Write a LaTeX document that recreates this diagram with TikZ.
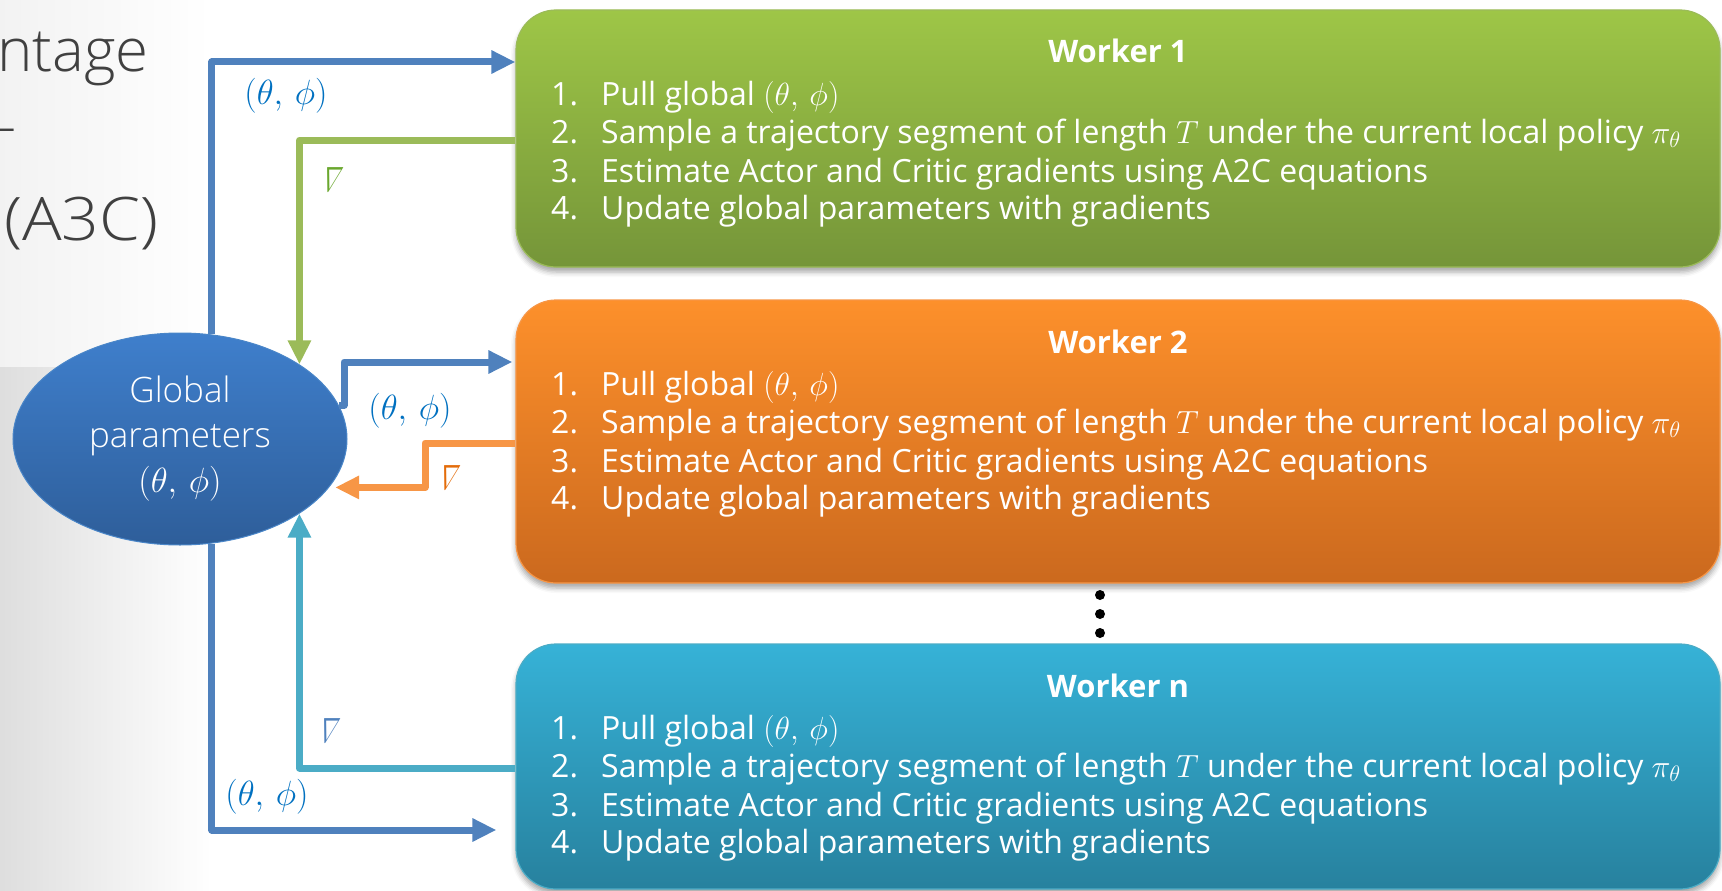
\documentclass[tikz,border=0pt]{standalone}
\usepackage{fix-cm}
\usepackage{fontspec}
\setmainfont{Open Sans}
\newfontfamily\lightfont{Open Sans Light}
\usetikzlibrary{arrows.meta,shapes.geometric,shadows.blur}

\definecolor{linkBlue}{HTML}{4F81BD}
\definecolor{linkGreen}{HTML}{9BBB59}
\definecolor{linkOrange}{HTML}{F79646}
\definecolor{linkCyan}{HTML}{4BACC6}
\definecolor{labBlue}{HTML}{0070C0}
\definecolor{gradGreen}{HTML}{6AA72E}
\definecolor{gradOrange}{HTML}{E36C0A}
\definecolor{gradBlue}{HTML}{4F81BD}
\definecolor{titleGray}{HTML}{404040}
\definecolor{ellTop}{HTML}{3F7FCC}
\definecolor{ellBot}{HTML}{2E5E9A}
\definecolor{ellEdge}{HTML}{4A86C8}
\definecolor{gTop}{HTML}{9EC647}
\definecolor{gBot}{HTML}{759539}
\definecolor{gEdge}{HTML}{9BBB59}
\definecolor{oTop}{HTML}{FD902B}
\definecolor{oBot}{HTML}{CB691E}
\definecolor{oEdge}{HTML}{F79646}
\definecolor{cTop}{HTML}{36B2D7}
\definecolor{cBot}{HTML}{27819E}
\definecolor{cEdge}{HTML}{4BACC6}

\newcommand\params{(\theta,\mkern3mu\phi)}

% text of one worker box: #1 name prefix, #2 top edge, #3 heading
\newcommand\workertext[3]{%
  \node[head] (#1h) at (1118,#2+53) {#3};
  \node[num]  (#1n1) at (551,#2+95)  {1.};
  \node[item] (#1t1) at (601,#2+95)  {Pull global $\params$};
  \node[num]  (#1n2) at (551,#2+133) {2.};
  \node[item] (#1t2) at (601,#2+133) {Sample a trajectory segment of length $T$ under the current local policy $\pi_\theta$};
  \node[num]  (#1n3) at (551,#2+172) {3.};
  \node[item] (#1t3) at (601,#2+172) {Estimate Actor and Critic gradients using A2C equations};
  \node[num]  (#1n4) at (551,#2+209) {4.};
  \node[item] (#1t4) at (601,#2+209) {Update global parameters with gradients};
}

\begin{document}
\begin{tikzpicture}[x=1pt,y=-1pt,
  link/.style={line width=7pt, line join=round, -{Triangle[length=24pt,width=22pt]}},
  wbox/.style={rounded corners=40pt, minimum width=1204pt, inner sep=0pt, line width=1.2pt,
    blur shadow={shadow xshift=0pt, shadow yshift=-5pt, shadow blur radius=5pt, shadow opacity=35}},
  head/.style={font=\fontsize{31}{31}\selectfont\bfseries, text=white, anchor=base, inner sep=0pt},
  item/.style={font=\fontsize{32}{32}\selectfont, text=white, anchor=base west, inner sep=0pt},
  num/.style={item},
  lab/.style={text=labBlue, font=\fontsize{35}{35}\selectfont, inner sep=0pt},
  grad/.style={font=\fontsize{28}{28}\selectfont, inner sep=0pt, xslant=0.3, xscale=0.78, yscale=1.25},
  title/.style={font=\lightfont\fontsize{60}{60}\selectfont, text=titleGray, anchor=base west, inner sep=0pt},
  dot/.style={circle, fill=black, minimum size=10pt, inner sep=0pt},
  backdrop/.style={rectangle, inner sep=0pt, outer sep=0pt, minimum width=212pt}
]
\useasboundingbox (0,0) rectangle (1722,891);

% slide background on the left
\node[backdrop, minimum height=367pt, left color=black!5, right color=white] (bgtop) at (106,183.5) {};
\node[backdrop, minimum height=524pt, left color=black!13, middle color=black!6, right color=white] (bgbot) at (106,629) {};

% slide title fragments
\node[title] (t1) at (-3,72) {ntage};
\node[title] (t2) at (-3,146) {-};
\node[title, xscale=1.1] (t3) at (4,240) {(A3C)};

% worker boxes
\node[wbox, top color=gTop, bottom color=gBot, draw=gEdge, minimum height=257pt] (w1) at (1118,138.5) {};
\node[wbox, top color=oTop, bottom color=oBot, draw=oEdge, minimum height=283pt] (w2) at (1118,441.5) {};
\node[wbox, top color=cTop, bottom color=cBot, draw=cEdge, minimum height=245pt] (w3) at (1118,766.5) {};

\workertext{a}{10}{Worker 1}
\workertext{b}{300}{Worker 2}
\workertext{c}{644}{Worker n}

\node[dot] (d1) at (1100,595) {};
\node[dot] (d2) at (1100,614) {};
\node[dot] (d3) at (1100,633) {};

% global parameters
\node[ellipse, minimum width=334pt, minimum height=212pt, inner sep=0pt,
  top color=ellTop, bottom color=ellBot, draw=ellEdge, line width=1pt,
  text=white, align=center, font=\lightfont\fontsize{35}{45}\selectfont] (g) at (180,439)
  {Global\\parameters\\$\params$};

% parameter pushes and gradient returns
\draw[link, linkBlue] (g.73.9) |- (w1.west |- 0,62);
\draw[link, linkGreen] (w1.west |- 0,140) -| (g.32.4);
\draw[link, linkBlue] (g.12) -- (g.12 -| 344,0) |- ([xshift=-3pt]w2.west |- 0,362);
\draw[link, linkOrange] (w2.west |- 0,443) -- (425,443) |- ([xshift=6pt]g.-18);
\draw[link, linkCyan] (w3.west |- 0,768) -| (g.-32.4);
\draw[link, linkBlue] (g.-73.9) |- ([xshift=-19pt]w3.west |- 0,830);

% labels
\node[lab] (l1) at (286,96) {$\params$};
\node[lab] (l2) at (410,411) {$\params$};
\node[lab] (l3) at (267,797) {$\params$};
\node[grad, text=gradGreen] (n1) at (332,180) {$\nabla$};
\node[grad, text=gradOrange] (n2) at (449,478) {$\nabla$};
\node[grad, text=gradBlue] (n3) at (329,731) {$\nabla$};
\end{tikzpicture}
\end{document}
